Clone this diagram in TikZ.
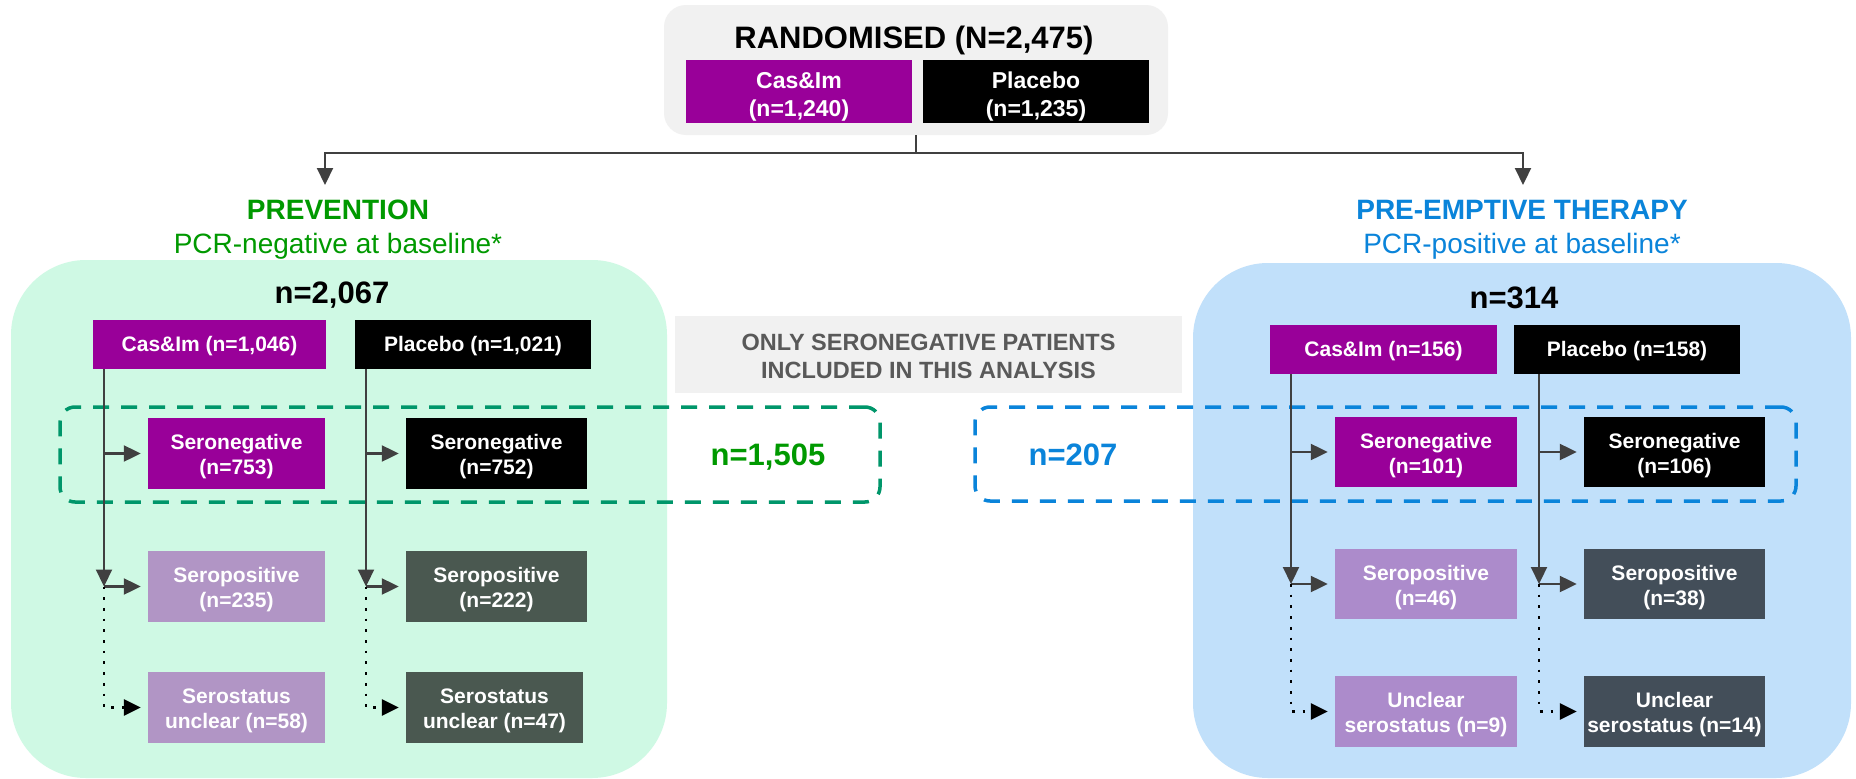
\documentclass[tikz,border=0pt]{standalone}
\usepackage{fontspec}
\setmainfont{Liberation Sans}
\usetikzlibrary{arrows.meta}
\definecolor{cpurple}{HTML}{990099}
\definecolor{clpurpleL}{HTML}{B195C5}
\definecolor{clpurpleR}{HTML}{AC8BCB}
\definecolor{cdarkL}{HTML}{4A5850}
\definecolor{cdarkR}{HTML}{434E59}
\definecolor{cgreenfill}{HTML}{CFF9E4}
\definecolor{cbluefill}{HTML}{C1E0FA}
\definecolor{cgreentxt}{HTML}{009900}
\definecolor{cbluetxt}{HTML}{0A84DA}
\definecolor{cgreendash}{HTML}{00966A}
\definecolor{cbluedash}{HTML}{0A84DA}
\definecolor{cgrayfill}{HTML}{F1F1F1}
\definecolor{cgraytxt}{HTML}{595959}
\definecolor{cline}{HTML}{404040}
\tikzset{
  box/.style={rectangle, inner sep=0pt},
  armbox/.style={box, minimum height=49pt},
  subbox/.style={box, minimum height=71pt},
  btxt/.style={inner sep=0pt, align=center, text=white, font=\bfseries\fontsize{21}{25}\selectfont},
  ttxt/.style={btxt, font=\bfseries\fontsize{23}{28}\selectfont},
  bigbox/.style={rectangle, inner sep=0pt, rounded corners=75pt},
  dashbox/.style={rectangle, inner sep=0pt, line width=3.5pt, dash pattern=on 16pt off 12pt, rounded corners=15pt},
  conn/.style={draw=cline, line width=2.2pt},
  arr/.style={-{Triangle[length=17pt,width=16pt]}},
  dotl/.style={draw=black, line width=2.7pt, dash pattern=on 2.7pt off 8pt},
  title/.style={anchor=base, font=\bfseries\fontsize{28}{28}\selectfont},
  subtitle/.style={anchor=base, font=\fontsize{28}{28}\selectfont},
  count/.style={anchor=base, font=\bfseries\fontsize{31}{31}\selectfont}
}
\begin{document}
\begin{tikzpicture}[x=1pt,y=-1pt]
\useasboundingbox (0,0) rectangle (1856,779);
\fill[white] (0,0) rectangle (1856,779);

% top
\node[rectangle, fill=cgrayfill, rounded corners=22pt, minimum width=504pt, minimum height=130pt, inner sep=0pt] (top) at (916,70) {};
\node[count] (rtitle) at (914,48) {RANDOMISED (N=2,475)};
\node[box, fill=cpurple, minimum width=226pt, minimum height=63pt] (tcas) at (799,91.5) {};
\node[ttxt] (tcast) at ([yshift=-5.5pt]tcas.center) {Cas\&Im\\(n=1,240)};
\node[box, fill=black, minimum width=226pt, minimum height=63pt] (tpla) at (1036,91.5) {};
\node[ttxt] (tplat) at ([yshift=-5.5pt]tpla.center) {Placebo\\(n=1,235)};

% big panels
\node[bigbox, fill=cgreenfill, minimum width=656pt, minimum height=518pt] (gbig) at (339,519) {};
\node[bigbox, fill=cbluefill, minimum width=658pt, minimum height=515pt] (bbig) at (1522,520.5) {};

% titles
\node[title, text=cgreentxt] (prevt) at (338,219) {PREVENTION};
\node[subtitle, text=cgreentxt] (prevs) at (338,253) {PCR-negative at baseline*};
\node[title, text=cbluetxt] (pret) at (1522,219) {PRE-EMPTIVE THERAPY};
\node[subtitle, text=cbluetxt] (pres) at (1522,253) {PCR-positive at baseline*};

\node[count] (ln) at (332,303) {n=2,067};
\node[count] (rn) at (1514,308) {n=314};

% middle note
\node[rectangle, fill=cgrayfill, minimum width=507pt, minimum height=77pt, inner sep=0pt] (mid) at (928.5,354.5) {};
\node[inner sep=0pt, text=cgraytxt, align=center, font=\bfseries\fontsize{23.5}{28}\selectfont] (midt) at ([yshift=-2pt]mid.center) {ONLY SERONEGATIVE PATIENTS\\INCLUDED IN THIS ANALYSIS};

% dashed groups
\node[dashbox, draw=cgreendash, minimum width=820pt, minimum height=95pt] (gdash) at (470,454.5) {};
\node[dashbox, draw=cbluedash, minimum width=821pt, minimum height=94pt] (bdash) at (1385.5,454) {};
\node[count, text=cgreentxt] (gsum) at (768,465) {n=1,505};
\node[count, text=cbluetxt] (bsum) at (1073,465) {n=207};

% left boxes
\node[armbox, fill=cpurple, minimum width=233pt] (lcas) at (209.5,344.5) {};
\node[armbox, fill=black, minimum width=236pt] (lpla) at (473,344.5) {};
\node[subbox, fill=cpurple, minimum width=177pt] (lneg1) at (236.5,453.5) {};
\node[subbox, fill=black, minimum width=181pt] (lneg2) at (496.5,453.5) {};
\node[subbox, fill=clpurpleL, minimum width=177pt] (lpos1) at (236.5,586.5) {};
\node[subbox, fill=cdarkL, minimum width=181pt] (lpos2) at (496.5,586.5) {};
\node[subbox, fill=clpurpleL, minimum width=177pt] (lunc1) at (236.5,707.5) {};
\node[subbox, fill=cdarkL, minimum width=177pt] (lunc2) at (494.5,707.5) {};

% right boxes
\node[armbox, fill=cpurple, minimum width=227pt] (rcas) at (1383.5,349.5) {};
\node[armbox, fill=black, minimum width=226pt] (rpla) at (1627,349.5) {};
\node[subbox, fill=cpurple, minimum width=182pt, minimum height=70pt] (rneg1) at (1426,452) {};
\node[subbox, fill=black, minimum width=181pt, minimum height=70pt] (rneg2) at (1674.5,452) {};
\node[subbox, fill=clpurpleR, minimum width=182pt, minimum height=70pt] (rpos1) at (1426,584) {};
\node[subbox, fill=cdarkR, minimum width=181pt, minimum height=70pt] (rpos2) at (1674.5,584) {};
\node[subbox, fill=clpurpleR, minimum width=182pt] (runc1) at (1426,711.5) {};
\node[subbox, fill=cdarkR, minimum width=181pt] (runc2) at (1674.5,711.5) {};

% box texts
\node[btxt] (lcast) at ([yshift=-2pt]lcas.center) {Cas\&Im (n=1,046)};
\node[btxt] (lplat) at ([yshift=-2pt]lpla.center) {Placebo (n=1,021)};
\node[btxt] (rcast) at ([yshift=-2pt]rcas.center) {Cas\&Im (n=156)};
\node[btxt] (rplat) at ([yshift=-2pt]rpla.center) {Placebo (n=158)};
\node[btxt] (lneg1t) at ([yshift=-3.5pt]lneg1.center) {Seronegative\\(n=753)};
\node[btxt] (lneg2t) at ([yshift=-3.5pt]lneg2.center) {Seronegative\\(n=752)};
\node[btxt] (lpos1t) at ([yshift=-3.5pt]lpos1.center) {Seropositive\\(n=235)};
\node[btxt] (lpos2t) at ([yshift=-3.5pt]lpos2.center) {Seropositive\\(n=222)};
\node[btxt] (lunc1t) at ([yshift=-3.5pt]lunc1.center) {Serostatus\\unclear (n=58)};
\node[btxt] (lunc2t) at ([yshift=-3.5pt]lunc2.center) {Serostatus\\unclear (n=47)};
\node[btxt] (rneg1t) at ([yshift=-3.5pt]rneg1.center) {Seronegative\\(n=101)};
\node[btxt] (rneg2t) at ([yshift=-3.5pt]rneg2.center) {Seronegative\\(n=106)};
\node[btxt] (rpos1t) at ([yshift=-3.5pt]rpos1.center) {Seropositive\\(n=46)};
\node[btxt] (rpos2t) at ([yshift=-3.5pt]rpos2.center) {Seropositive\\(n=38)};
\node[btxt] (runc1t) at ([yshift=-3.5pt]runc1.center) {Unclear\\serostatus (n=9)};
\node[btxt] (runc2t) at ([yshift=-3.5pt]runc2.center) {Unclear\\serostatus (n=14)};

% top connectors
\coordinate (tj) at (916,153);
\coordinate (lend) at (325,185);
\coordinate (rend) at (1523,185);
\draw[conn, arr] (top.south) -- (tj) -| (lend);
\draw[conn, arr] (tj) -| (rend);

% column connectors
\coordinate (lv1) at (104,0);
\coordinate (lv2) at (366,0);
\coordinate (rv1) at (1291,0);
\coordinate (rv2) at (1539,0);

\foreach \v/\a/\n/\p/\u in {lv1/lcas/lneg1/lpos1/lunc1, lv2/lpla/lneg2/lpos2/lunc2, rv1/rcas/rneg1/rpos1/runc1, rv2/rpla/rneg2/rpos2/runc2}{
  \draw[conn, arr] (\a.south -| \v) -- (\p.west -| \v);
  \draw[conn, arr, shorten >=7pt] (\n.west -| \v) -- (\n.west);
  \draw[conn, arr, shorten >=7pt] (\p.west -| \v) -- (\p.west);
  \draw[dotl, arr, shorten >=7pt] (\p.west -| \v) -- (\u.west -| \v) -- (\u.west);
}
\end{tikzpicture}
\end{document}
